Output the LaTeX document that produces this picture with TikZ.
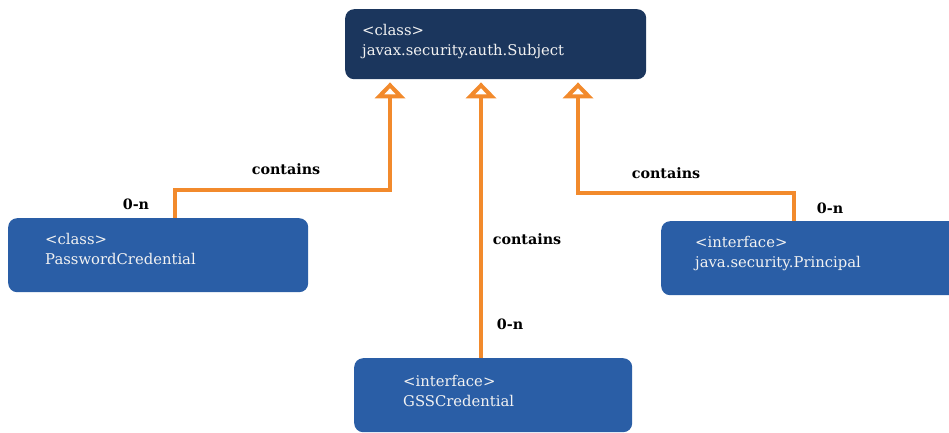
\documentclass[tikz,border=0pt]{standalone}
\usepackage{fontspec}
\setmainfont{DejaVu Serif}
\usetikzlibrary{arrows.meta}
\definecolor{navy}{HTML}{1B365D}
\definecolor{boxblue}{HTML}{2A5EA6}
\definecolor{conn}{HTML}{F28A2C}
\definecolor{boxtext}{HTML}{F2F2F2}
\begin{document}
\begin{tikzpicture}[x=1pt,y=-1pt,
  box/.style={rounded corners=9pt, anchor=north west, inner sep=0pt, draw=none},
  boxtxt/.style={anchor=base west, inner sep=0pt, align=left, text=boxtext,
    font=\fontsize{14.8}{20}\selectfont},
  lbl/.style={inner sep=0pt, font=\fontsize{14.3}{16}\selectfont\bfseries},
  connector/.style={draw=conn, line width=4pt,
    -{Triangle[open, length=16pt, width=30pt, line width=4.5pt, fill=white]}}]
\useasboundingbox (0,0) rectangle (949,433);
\clip (0,0) rectangle (949,433);
% boxes
\node[box, fill=navy, minimum width=301pt, minimum height=70pt] (subj) at (345,9) {};
\node[box, fill=boxblue, minimum width=300pt, minimum height=74pt] (pw) at (8,218) {};
\node[box, fill=boxblue, minimum width=300pt, minimum height=74pt] (princ) at (661,221) {};
\node[box, fill=boxblue, minimum width=278pt, minimum height=74pt] (gss) at (354,358) {};
% texts
\node[boxtxt] (subjtxt) at (362,56) {<class>\\javax.security.auth.Subject};
\node[boxtxt] (pwtxt) at (45,264) {<class>\\PasswordCredential};
\node[boxtxt] (princtxt) at (695,267) {<interface>\\java.security.Principal};
\node[boxtxt] (gsstxt) at (403,406) {<interface>\\GSSCredential};
% connectors
\draw[connector] ([xshift=167pt]pw.north west) |- (390,190) -- ([xshift=45pt,yshift=-3pt]subj.south west);
\draw[connector] ([xshift=127pt]gss.north west) -- ([xshift=136pt,yshift=-3pt]subj.south west);
\draw[connector] ([xshift=133pt]princ.north west) |- (578,193) -- ([xshift=233pt,yshift=-3pt]subj.south west);
% labels
\node[lbl] (l1) at (286,169) {contains};
\node[lbl] (m1) at (136,204) {0-n};
\node[lbl] (l2) at (527,239) {contains};
\node[lbl] (m2) at (510,324) {0-n};
\node[lbl] (l3) at (666,173) {contains};
\node[lbl] (m3) at (830,208) {0-n};
\end{tikzpicture}
\end{document}
